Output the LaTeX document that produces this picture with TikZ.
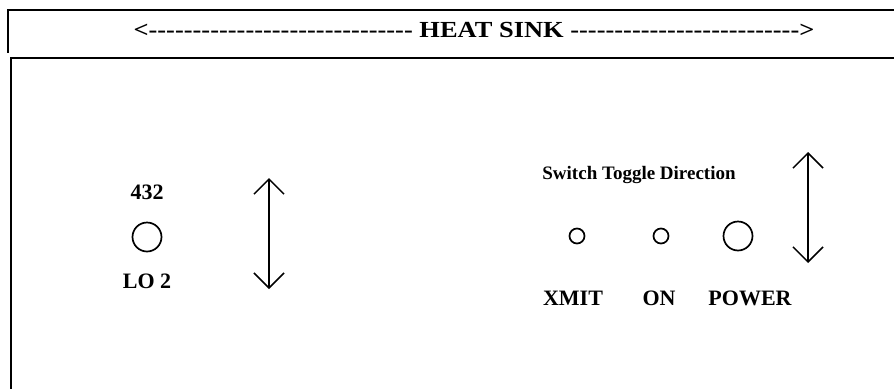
\documentclass[tikz,border=0pt]{standalone}
\usepackage{fontspec}
\usepackage{graphicx}
\newfontfamily\panelfont{Liberation Serif}
\usetikzlibrary{positioning,arrows.meta}

\begin{document}
\begin{tikzpicture}[x=1pt, y=-1pt,
        lbl/.style={font=\panelfont\bfseries\fontsize{22}{24}\selectfont, inner sep=0},
        hole/.style={draw, circle, line width=1.7pt, inner sep=0, minimum size=29pt},
        lamp/.style={hole, minimum size=15pt},
        toggle/.style={{Straight Barb[length=15pt,width=30pt]}-{Straight Barb[length=15pt,width=30pt]}, line width=1.5pt},
        frame/.style={line width=2pt}]
    \useasboundingbox (0,0) rectangle (894,389);

    % heat sink strip and panel
    \draw [frame] (894,10) -- (8,10) -- (8,53);
    \draw [frame] (894,58) -- (11,58) -- (11,389);
    \node (sink) [lbl, font=\panelfont\bfseries\fontsize{23}{25}\selectfont] at (474,30) {\scalebox{1.15}[1]{<------------------------------ HEAT SINK -------------------------->}};

    % LO 2 side
    \node (lo2) [hole] at (147,237) {};
    \node (lo2num) [lbl, above=22pt of lo2] {432};
    \node (lo2name) [lbl, below=21pt of lo2] {LO 2};
    \coordinate (lo2up) at (269,178);
    \coordinate (lo2dn) at (269,289);
    \draw [toggle] (lo2up) -- (lo2dn);

    % switches
    \node (dir) [lbl, font=\panelfont\bfseries\fontsize{19}{21}\selectfont] at (639,175) {Switch Toggle Direction};
    \node (xmit) [lamp] at (577,236) {};
    \node (on) [lamp] at (661,236) {};
    \node (power) [hole] at (738,236) {};
    \node (xmitname) [lbl] at (573,298) {XMIT};
    \node (onname) [lbl] at (659,298) {ON};
    \node (powername) [lbl] at (750,298) {POWER};
    \coordinate (swup) at (808,152);
    \coordinate (swdn) at (808,263);
    \draw [toggle] (swup) -- (swdn);
\end{tikzpicture}
\end{document}
